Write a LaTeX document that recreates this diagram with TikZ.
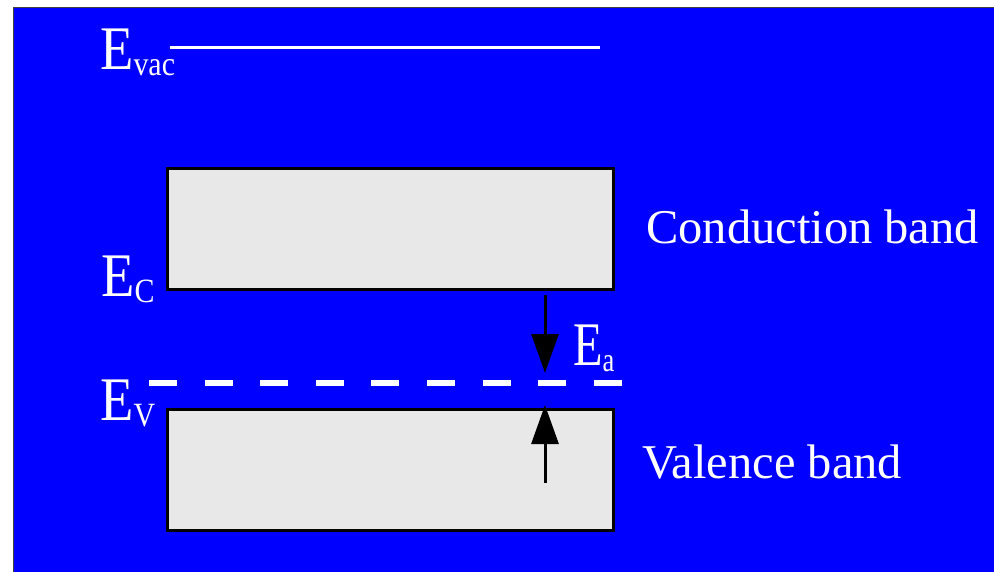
\documentclass[tikz,border=0pt]{standalone}
\usepackage{fontspec}
\setmainfont{Liberation Serif}
\usetikzlibrary{arrows.meta}
% energy level label: E with a subscript
\newcommand{\lev}[2][0.88]{\scalebox{#1}[1]{\fontsize{62}{62}\selectfont E\raisebox{-6pt}{\fontsize{34}{34}\selectfont #2}}}

\begin{document}
\begin{tikzpicture}[x=1pt, y=-1pt, >={Triangle[length=39pt,width=27pt]},
		band/.style={draw=black, line width=3.2pt, fill=gray!18, minimum width=446pt, minimum height=121pt, anchor=north west, inner sep=0pt},
		lbl/.style={text=white, anchor=base west, inner sep=0pt, font=\fontsize{48.5}{48.5}\selectfont}]
		\useasboundingbox (0,0) rectangle (994,572);
		\fill[blue, draw=darkgray, line width=1pt] (13,8) rectangle (994,572);
		% vacuum level
		\draw[white, line width=3pt] (170,48) -- (600,48);
		\node[lbl] (evac) at (100,70) {\lev{vac}};
		% bands
		\node[band] (cb) at (166,167) {};
		\node[band] (vb) at (166,408) {};
		\node[lbl] (ec) at (101,297) {\lev{C}};
		\node[lbl] (ev) at (100,420) {\lev{V}};
		\node[lbl] (cbtext) at (646,244) {Conduction band};
		\node[lbl] (vbtext) at (642,478) {Valence band};
		% acceptor level
		\draw[white, line width=6.5pt, dash pattern=on 28pt off 27.6pt] (149,383) -- (622,383);
		\coordinate (gtop) at (545,295);
		\coordinate (atop) at (545,373);
		\coordinate (vin) at (545,483);
		\coordinate (abot) at (545,405);
		\draw[->, line width=3pt] (gtop) -- (atop);
		\draw[->, line width=3pt] (vin) -- (abot);
		\node[lbl] (ea) at (573,365) {\lev[0.78]{a}};
	\end{tikzpicture}
\end{document}
